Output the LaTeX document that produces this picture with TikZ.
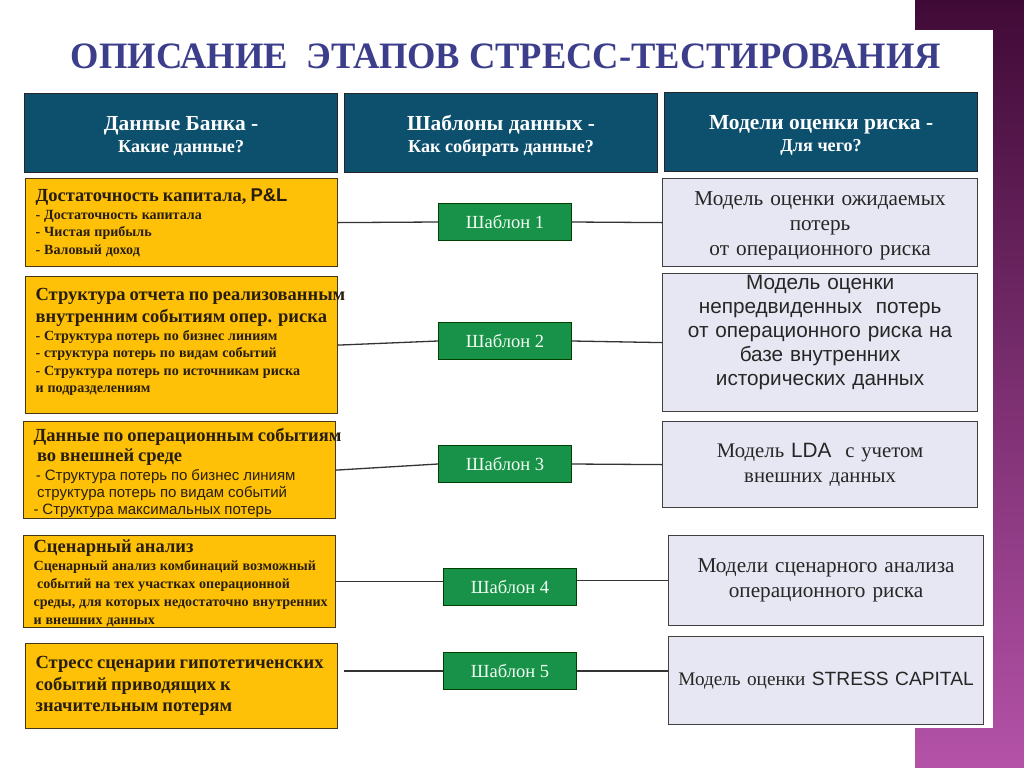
\documentclass[tikz,border=0pt]{standalone}
\usepackage{fontspec}
\setmainfont{Liberation Serif}
\setsansfont{Liberation Sans}
\usepackage{graphicx}

\newlength\pxu
\setlength\pxu{0.3mm}
\newcommand\oneline[1]{\mbox{#1}}

\definecolor{titleblue}{RGB}{60,62,140}
\definecolor{hdrblue}{RGB}{13,80,110}
\definecolor{gold}{RGB}{255,193,7}
\definecolor{goldline}{RGB}{70,55,20}
\definecolor{darktext}{RGB}{40,30,15}
\definecolor{tmplgreen}{RGB}{24,146,72}
\definecolor{lavender}{RGB}{230,231,242}
\definecolor{purptop}{RGB}{64,10,54}
\definecolor{purpbot}{RGB}{180,82,168}

\begin{document}
\begin{tikzpicture}[x=0.3mm, y=-0.3mm,
    hdr/.style={draw=black!85, fill=hdrblue, text=white, anchor=north west, align=center,
      minimum width=313\pxu, minimum height=79\pxu, line width=1.2\pxu,
      font=\bfseries\fontsize{18.3}{18.8}\selectfont},
    databox/.style={draw=goldline, fill=gold, text=darktext, font=\bfseries, anchor=north west,
      align=left, text width=292\pxu, inner xsep=10\pxu, inner ysep=0pt, line width=1.2\pxu},
    tmpl/.style={draw=green!25!black, fill=tmplgreen, text=green!5, minimum width=133\pxu,
      minimum height=37\pxu, line width=1.2\pxu, font=\fontsize{15.8}{16}\selectfont},
    modelbox/.style={draw=black!75, fill=lavender, text=black!85, anchor=north west, align=center,
      text width=303\pxu, inner xsep=6\pxu, inner ysep=0pt, line width=1.2\pxu},
    link/.style={draw=black!80, line width=1.3\pxu}]
  \useasboundingbox (0,0) rectangle (1024,767);
  % purple frame behind the white sheet
  \shade[top color=purptop, bottom color=purpbot] (915,0) rectangle (1024,767);
  \fill[white] (0,30) rectangle (993,728);

  \node[text=titleblue] (title) at (506,56)
    {\resizebox{261mm}{7.4mm}{\bfseries ОПИСАНИЕ\ \ ЭТАПОВ СТРЕСС-ТЕСТИРОВАНИЯ}};

  % column heads
  \node[hdr] (h1) at (24,93) {\rule{0pt}{20\pxu}Данные Банка -\\ {\fontsize{15.5}{16}\selectfont Какие данные?}};
  \node[hdr] (h2) at (344,93) {\rule{0pt}{20\pxu}Шаблоны данных -\\ {\fontsize{15.5}{16}\selectfont Как собирать данные?}};
  \node[hdr] (h3) at (664,92) {\rule{0pt}{20\pxu}Модели оценки риска -\\ {\fontsize{15.5}{16}\selectfont Для чего?}};

  % bank data
  \node[databox, minimum height=88\pxu] (d1) at (25,178)
    {{\fontsize{15.8}{17}\selectfont \oneline{Достаточность капитала, {\sffamily P\&L}}\par}
     {\fontsize{12}{15}\selectfont \oneline{- Достаточность капитала}\\ \oneline{- Чистая прибыль}\\
      \oneline{- Валовый доход}\par}};
  \node[databox, minimum height=137\pxu] (d2) at (25,276)
    {{\fontsize{15.8}{18.8}\selectfont \oneline{Структура отчета по реализованным}\\
      \oneline{внутренним событиям опер. риска}\par}
     {\fontsize{12}{15}\selectfont \oneline{- Структура потерь по бизнес линиям}\\
      \oneline{- структура потерь по видам событий}\\
      \oneline{- Структура потерь по источникам риска}\\ \oneline{и подразделениям}\par}
     \vspace{6\pxu}};
  \node[databox, minimum height=97\pxu] (d3) at (23,421)
    {{\fontsize{15.8}{17}\selectfont \oneline{Данные по операционным событиям}\\
      \oneline{\hspace*{3pt}во внешней среде}\par}
     \vspace{2pt}
     {\sffamily\mdseries\fontsize{12.8}{14.5}\selectfont \oneline{\hspace*{2pt}- Структура потерь по бизнес линиям}\\
      \oneline{\hspace*{3pt}структура потерь по видам событий}\\ \oneline{- Структура максимальных потерь}\par}
     \vspace{-6\pxu}};
  \node[databox, minimum height=92\pxu] (d4) at (23,535)
    {{\fontsize{15.8}{17}\selectfont \oneline{Сценарный анализ}\par}
     {\fontsize{12}{15.3}\selectfont \oneline{Сценарный анализ комбинаций возможный}\\
      \oneline{\hspace*{3pt}событий на тех участках операционной}\\
      \oneline{среды, для которых недостаточно внутренних}\\ \oneline{и внешних данных}\par}
     \vspace{-4\pxu}};
  \node[databox, minimum height=85\pxu] (d5) at (25,643)
    {{\fontsize{15.8}{18.3}\selectfont \oneline{Стресс сценарии гипотетиченских}\\
      \oneline{событий приводящих к}\\ \oneline{значительным потерям}\par}};

  % templates
  \node[tmpl] (t1) at (505,222) {Шаблон 1};
  \node[tmpl] (t2) at (505,341) {Шаблон 2};
  \node[tmpl] (t3) at (505,464) {Шаблон 3};
  \node[tmpl] (t4) at (510,587) {Шаблон 4};
  \node[tmpl] (t5) at (510,671) {Шаблон 5};

  % risk models
  \node[modelbox, minimum height=88\pxu, font=\fontsize{18.1}{21.3}\selectfont] (m1) at (662,178)
    {Модель оценки ожидаемых\\ потерь\\ от операционного риска\par\vspace{-6\pxu}};
  \node[modelbox, minimum height=138\pxu, font=\sffamily\fontsize{17.7}{20.5}\selectfont] (m2) at (662,273)
    {Модель оценки\\ непредвиденных\ \ потерь\\ от операционного риска на\\ базе внутренних\\ исторических данных\\ \mbox{}};
  \node[modelbox, minimum height=86\pxu, font=\fontsize{17.7}{21.3}\selectfont] (m3) at (662,421)
    {Модель {\sffamily LDA}\ \ с учетом\\ внешних данных};
  \node[modelbox, minimum height=90\pxu, font=\fontsize{18.1}{21.3}\selectfont] (m4) at (668,535)
    {Модели сценарного анализа\\ операционного риска};
  \node[modelbox, minimum height=88\pxu, font=\fontsize{16.4}{21.3}\selectfont] (m5) at (668,636)
    {Модель оценки {\sffamily STRESS CAPITAL}};

  % connectors
  \draw[link] (d1.east) -- (t1.west);
  \draw[link] (t1.east) -- (m1.west);
  \draw[link] (d2.east) -- (t2.west);
  \draw[link] (t2.east) -- (m2.west);
  \draw[link] (d3.east) -- (t3.west);
  \draw[link] (t3.east) -- (m3.west);
  \draw[link] (d4.east) -- (d4.east -| t4.west);
  \draw[link] (t4.east |- m4.west) -- (m4.west);
  \draw[link, shorten <=6\pxu] (d5.east |- t5.west) -- (t5.west);
  \draw[link] (t5.east) -- (t5.east -| m5.west);
\end{tikzpicture}
\end{document}
